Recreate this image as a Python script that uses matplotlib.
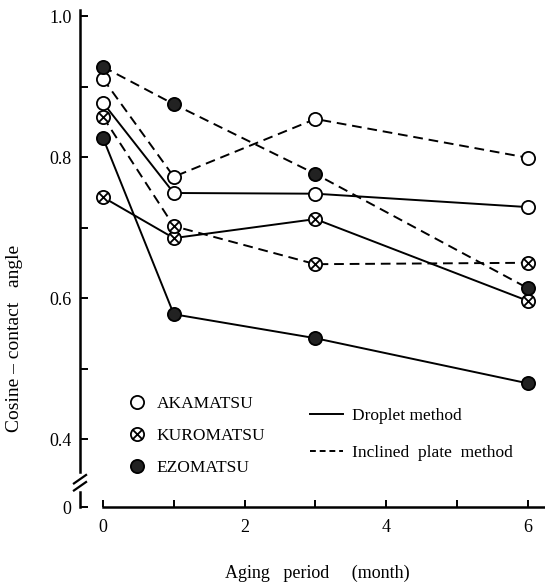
import matplotlib.pyplot as plt
import matplotlib.transforms as mtransforms
from matplotlib.lines import Line2D
from matplotlib.path import Path

plt.rcParams['font.family'] = ['Liberation Serif', 'DejaVu Serif']

# ---------------------------
# Data
# ---------------------------
MONTHS = [0, 1, 3, 6]

AKA_DROP = [0.877, 0.749, 0.748, 0.729]
AKA_INCL = [0.911, 0.772, 0.854, 0.799]
KURO_DROP = [0.743, 0.685, 0.712, 0.596]
KURO_INCL = [0.857, 0.702, 0.648, 0.650]
EZO_DROP = [0.827, 0.577, 0.543, 0.479]
EZO_INCL = [0.928, 0.875, 0.776, 0.614]

SPECIES = ["AKAMATSU", "KUROMATSU", "EZOMATSU"]
METHODS = ["Droplet method", "Inclined  plate  method"]

Y_TICKS = [0.4, 0.6, 0.8, 1.0]
Y_ZERO = 0.303  # where "0" sits below the axis break

# circle with an x inside
CROSS_CIRCLE = Path.make_compound_path(
    Path.unit_circle(),
    Path([(-0.7071, -0.7071), (0.7071, 0.7071), (-0.7071, 0.7071), (0.7071, -0.7071)],
         [Path.MOVETO, Path.LINETO, Path.MOVETO, Path.LINETO]),
)

LW = 1.4
DASH = (0, (5, 3))
MS = 9.5
marker_style = {
    "AKAMATSU": dict(marker="o", markerfacecolor="white"),
    "KUROMATSU": dict(marker=CROSS_CIRCLE, markerfacecolor="white"),
    "EZOMATSU": dict(marker="o", markerfacecolor="#222222"),
}

fig = plt.figure(figsize=(5.45, 5.84), dpi=100)
ax = fig.add_axes([80 / 545, 1 - 507.4 / 584, 465 / 545, 498.4 / 584])

series = [
    ("AKAMATSU", AKA_DROP, AKA_INCL),
    ("KUROMATSU", KURO_DROP, KURO_INCL),
    ("EZOMATSU", EZO_DROP, EZO_INCL),
]
for name, drop, incl in series:
    st = marker_style[name]
    ax.plot(MONTHS, drop, color="black", lw=LW, ls="-", markersize=MS,
            markeredgecolor="black", markeredgewidth=1.3, zorder=3, **st)
    ax.plot(MONTHS, incl, color="black", lw=LW, ls=DASH, markersize=MS,
            markeredgecolor="black", markeredgewidth=1.3, zorder=3, **st)

ax.set_xlim(-0.325, 6.243)
ax.set_ylim(Y_ZERO, 1.01)

for s in ["top", "right"]:
    ax.spines[s].set_visible(False)
ax.spines["left"].set_bounds(0.353, 1.0085)
ax.spines["bottom"].set_bounds(0, 6.243)
for s in ["left", "bottom"]:
    ax.spines[s].set_linewidth(1.8)

# broken y axis: short stub at 0 plus two slashes
trans = mtransforms.blended_transform_factory(ax.transAxes, ax.transData)
ax.plot([0, 0], [Y_ZERO, 0.325], color="black", lw=1.8, transform=trans, clip_on=False)
for yc in [0.333, 0.343]:
    ax.plot([-0.013, 0.013], [yc - 0.006, yc + 0.006], color="black", lw=1.6,
            transform=trans, clip_on=False)

ax.set_yticks([Y_ZERO] + Y_TICKS, labels=["0", "0.4", "0.6", "0.8", "1.0"])
ax.set_yticks([0.5, 0.7, 0.9], minor=True)
ax.set_xticks(range(7), labels=["0", "", "2", "", "4", "", "6"])
ax.tick_params(axis="y", which="both", direction="in", length=6, width=1.4,
               labelsize=13, pad=6)
ax.tick_params(axis="x", direction="in", length=5, width=1.4, labelsize=13, pad=8)

fig.text(15 / 545, 1 - 338 / 584, "Cosine \u2013 contact   angle", rotation=90,
         ha="center", va="center", fontsize=14)
fig.text(317 / 545, 1 - 573 / 584, "Aging   period     (month)",
         ha="center", va="center", fontsize=13)

# legends
sp_handles = [Line2D([], [], ls="none", markersize=MS, markeredgecolor="black",
                     markeredgewidth=1.3, **marker_style[n]) for n in SPECIES]
leg1 = ax.legend(sp_handles, SPECIES, loc="upper left", frameon=False,
                 bbox_to_anchor=(128 / 545, 1 - 396 / 584), bbox_transform=fig.transFigure,
                 fontsize=12.5, handlelength=1.0, handletextpad=0.65,
                 labelspacing=0.9, borderpad=0, borderaxespad=0)
ax.add_artist(leg1)

m_handles = [Line2D([], [], color="black", lw=LW, ls="-"),
             Line2D([], [], color="black", lw=LW, ls=(0, (3, 2)))]
ax.legend(m_handles, METHODS, loc="upper left", frameon=False,
          bbox_to_anchor=(310 / 545, 1 - 408 / 584), bbox_transform=fig.transFigure,
          fontsize=12.5, handlelength=1.9, handletextpad=0.5,
          labelspacing=1.2, borderpad=0, borderaxespad=0)

fig.savefig("out.png", dpi=100)
